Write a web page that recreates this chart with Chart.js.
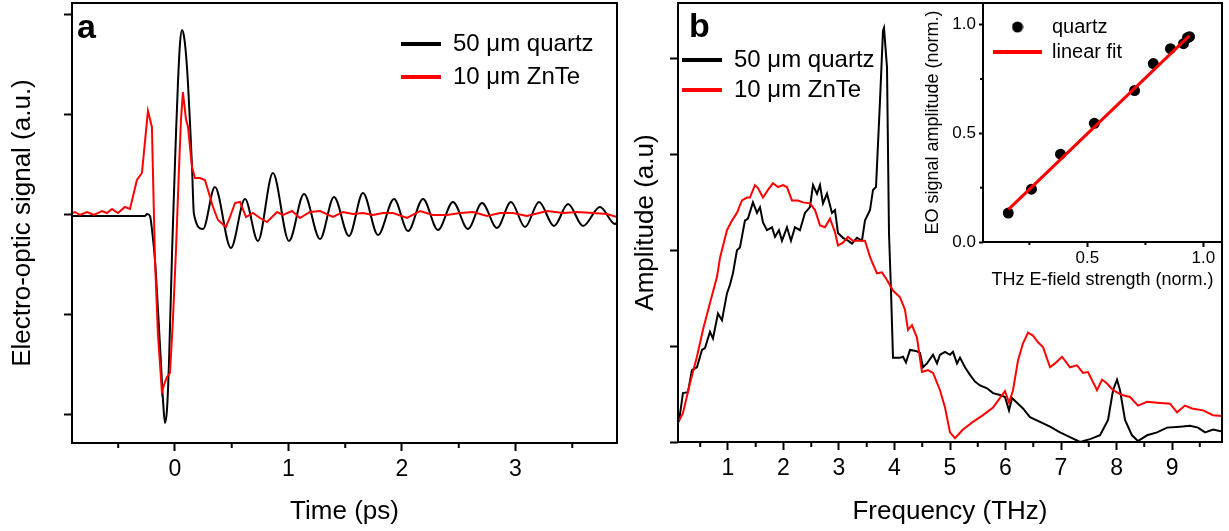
<!DOCTYPE html>
<html><head><meta charset="utf-8">
<script src="https://cdn.jsdelivr.net/npm/chart.js@4.4.1/dist/chart.umd.min.js"></script>
<style>
html,body{margin:0;padding:0;background:#fff;}
body{width:1229px;height:531px;position:relative;overflow:hidden;}
canvas{position:absolute;display:block;}
#cA{left:0;top:0;width:630px;height:531px;}
#cB{left:630px;top:0;width:599px;height:531px;}
#cI{left:900px;top:0;width:329px;height:300px;}
</style></head><body>
<canvas id="cA" width="630" height="531"></canvas>
<canvas id="cB" width="599" height="531"></canvas>
<canvas id="cI" width="329" height="300"></canvas>
<script>
// ---------------- data ----------------
const seriesNames = ['50 \u03bcm quartz', '10 \u03bcm ZnTe'];
const insetNames = ['quartz', 'linear fit'];

// panel a : time domain (ps, a.u.)
const timeQuartz = [-0.91, -0.66, -0.264, -0.247, -0.22, -0.203, -0.176, -0.15, -0.123, -0.106, -0.088, -0.07, -0.053, -0.026, -0.009, 0.009, 0.026, 0.044, 0.062, 0.079, 0.097, 0.115, 0.132, 0.15, 0.167, 0.247, 0.352, 0.493, 0.617, 0.731, 0.863, 1.004, 1.137, 1.278, 1.401, 1.533, 1.656, 1.789, 1.93, 2.053, 2.185, 2.317, 2.449, 2.581, 2.705, 2.837, 2.96, 3.084, 3.207, 3.339, 3.463, 3.595, 3.744, 3.877, 3.895];
const signalQuartz = [-0.02, -0.02, -0.02, 0.0, -0.02, -0.15, -0.46, -0.95, -1.5, -1.85, -2.09, -1.95, -1.5, -0.4, 0.2, 0.8, 1.3, 1.7, 1.84, 1.78, 1.6, 1.3, 0.92, 0.48, 0.0, -0.15, 0.27, -0.34, 0.15, -0.27, 0.41, -0.27, 0.2, -0.25, 0.17, -0.22, 0.21, -0.21, 0.15, -0.17, 0.15, -0.16, 0.12, -0.15, 0.11, -0.14, 0.12, -0.13, 0.12, -0.12, 0.1, -0.12, 0.07, -0.1, -0.08];
const timeZnTe = [-0.907, -0.881, -0.837, -0.775, -0.714, -0.643, -0.599, -0.555, -0.502, -0.441, -0.396, -0.335, -0.291, -0.238, -0.203, -0.176, -0.150, -0.115, -0.088, -0.070, -0.044, -0.018, 0.009, 0.035, 0.053, 0.070, 0.097, 0.115, 0.150, 0.176, 0.220, 0.264, 0.291, 0.335, 0.379, 0.449, 0.485, 0.529, 0.573, 0.626, 0.687, 0.749, 0.811, 0.899, 0.952, 1.031, 1.101, 1.189, 1.278, 1.392, 1.480, 1.568, 1.656, 1.744, 1.833, 1.921, 2.044, 2.159, 2.273, 2.396, 2.511, 2.626, 2.749, 2.863, 2.978, 3.101, 3.278, 3.419, 3.542, 3.683, 3.806, 3.894];
const signalZnTe = [0.01, 0.02, -0.01, 0.02, -0.01, 0.03, 0.01, 0.05, 0.01, 0.07, 0.05, 0.34, 0.41, 1.03, 0.87, -0.46, -1.2, -1.78, -1.68, -1.63, -1.59, -1.06, -0.36, 0.44, 0.94, 1.22, 0.95, 0.87, 0.47, 0.36, 0.36, 0.34, 0.24, 0.07, -0.06, -0.13, -0.03, 0.11, 0.12, -0.03, 0.01, -0.04, -0.08, 0.02, -0.01, 0.03, -0.04, 0.02, 0.03, -0.03, 0.02, 0.0, 0.01, -0.01, 0.01, 0.01, -0.04, 0.03, -0.01, -0.01, 0.01, 0.02, -0.02, 0.01, 0.01, -0.02, 0.03, 0.01, 0.02, 0.01, 0.0, -0.03];

// panel b : spectra (THz, a.u.)
const freqQuartz = [0.117, 0.189, 0.279, 0.351, 0.441, 0.532, 0.586, 0.676, 0.730, 0.820, 0.892, 0.982, 1.036, 1.090, 1.162, 1.216, 1.306, 1.360, 1.450, 1.523, 1.577, 1.631, 1.703, 1.793, 1.847, 1.919, 1.973, 2.063, 2.135, 2.207, 2.297, 2.387, 2.477, 2.532, 2.604, 2.658, 2.712, 2.784, 2.874, 2.928, 2.982, 3.072, 3.162, 3.234, 3.324, 3.414, 3.468, 3.559, 3.613, 3.667, 3.739, 3.793, 3.811, 3.865, 3.901, 3.937, 3.973, 4.099, 4.153, 4.207, 4.279, 4.387, 4.459, 4.514, 4.586, 4.694, 4.766, 4.820, 4.910, 5.000, 5.054, 5.126, 5.180, 5.270, 5.360, 5.450, 5.541, 5.667, 5.775, 5.901, 5.991, 6.063, 6.117, 6.207, 6.315, 6.441, 6.622, 6.802, 6.982, 7.162, 7.342, 7.523, 7.703, 7.847, 7.937, 8.009, 8.063, 8.153, 8.279, 8.387, 8.550, 8.730, 8.910, 9.144, 9.324, 9.468, 9.595, 9.739, 9.901];
const ampQuartz = [0.21, 0.51, 0.52, 0.75, 0.78, 0.96, 0.98, 1.15, 1.08, 1.34, 1.27, 1.55, 1.64, 1.76, 2.00, 2.03, 2.31, 2.33, 2.50, 2.39, 2.45, 2.29, 2.21, 2.24, 2.14, 2.21, 2.10, 2.24, 2.10, 2.24, 2.21, 2.39, 2.45, 2.68, 2.59, 2.68, 2.49, 2.59, 2.39, 2.42, 2.18, 2.13, 2.10, 2.07, 2.13, 2.10, 2.31, 2.42, 2.63, 2.66, 3.56, 4.29, 4.32, 3.91, 2.18, 1.58, 0.88, 0.88, 0.89, 0.83, 0.96, 0.95, 0.93, 0.78, 0.82, 0.91, 0.82, 0.91, 0.94, 0.91, 0.94, 0.82, 0.88, 0.78, 0.70, 0.63, 0.59, 0.56, 0.51, 0.49, 0.47, 0.33, 0.46, 0.41, 0.35, 0.26, 0.21, 0.16, 0.10, 0.05, 0.00, 0.03, 0.07, 0.23, 0.54, 0.65, 0.54, 0.23, 0.07, 0.01, 0.07, 0.10, 0.15, 0.16, 0.17, 0.15, 0.10, 0.13, 0.11];
const freqZnTe = [0.099, 0.189, 0.315, 0.441, 0.550, 0.676, 0.802, 0.856, 0.982, 1.072, 1.162, 1.252, 1.342, 1.396, 1.486, 1.541, 1.631, 1.721, 1.811, 1.901, 1.991, 2.063, 2.153, 2.261, 2.351, 2.477, 2.568, 2.658, 2.748, 2.838, 2.928, 2.982, 3.072, 3.162, 3.252, 3.378, 3.468, 3.559, 3.595, 3.685, 3.775, 3.865, 3.973, 4.099, 4.189, 4.243, 4.315, 4.405, 4.495, 4.604, 4.694, 4.820, 4.910, 5.000, 5.090, 5.234, 5.414, 5.595, 5.775, 5.901, 5.991, 6.063, 6.135, 6.225, 6.315, 6.405, 6.495, 6.586, 6.676, 6.802, 6.892, 7.018, 7.162, 7.288, 7.396, 7.486, 7.649, 7.739, 7.829, 7.937, 8.099, 8.243, 8.387, 8.550, 8.730, 8.964, 9.090, 9.234, 9.360, 9.559, 9.739, 9.901];
const ampZnTe = [0.20, 0.30, 0.61, 0.89, 1.17, 1.45, 1.72, 1.92, 2.21, 2.31, 2.39, 2.52, 2.55, 2.55, 2.68, 2.65, 2.55, 2.63, 2.70, 2.66, 2.68, 2.66, 2.52, 2.52, 2.50, 2.49, 2.42, 2.26, 2.24, 2.33, 2.19, 2.05, 2.08, 2.14, 2.10, 2.10, 2.10, 1.93, 1.88, 1.76, 1.77, 1.69, 1.58, 1.51, 1.38, 1.17, 1.22, 1.09, 0.73, 0.75, 0.72, 0.54, 0.36, 0.10, 0.04, 0.13, 0.21, 0.28, 0.36, 0.46, 0.53, 0.41, 0.54, 0.85, 1.03, 1.14, 1.11, 1.04, 0.99, 0.78, 0.82, 0.89, 0.78, 0.80, 0.72, 0.73, 0.54, 0.65, 0.61, 0.54, 0.49, 0.47, 0.38, 0.42, 0.41, 0.40, 0.31, 0.38, 0.35, 0.33, 0.28, 0.27];

// inset : EO amplitude vs field strength (norm.)
const fieldStrength = [0.159, 0.259, 0.384, 0.530, 0.703, 0.784, 0.858, 0.914, 0.931, 0.940];
const eoAmplitude = [0.133, 0.243, 0.404, 0.546, 0.697, 0.821, 0.890, 0.913, 0.940, 0.945];
const fitX = [0.16, 0.94];
const fitY = [0.15, 0.95];

// ticks
const timeTicks = [0, 1, 2, 3];
const timeTickLabels = ['0', '1', '2', '3'];
const timeMinorTicks = [-0.5, 0.5, 1.5, 2.5, 3.5];
const signalTicks = [-2, -1, 0, 1, 2];
const freqTicks = [1, 2, 3, 4, 5, 6, 7, 8, 9];
const freqTickLabels = ['1', '2', '3', '4', '5', '6', '7', '8', '9'];
const freqMinorTicks = [0.5, 1.5, 2.5, 3.5, 4.5, 5.5, 6.5, 7.5, 8.5, 9.5];
const ampTicks = [0, 1, 2, 3, 4];
const insetXTicks = [0.5, 1.0];
const insetXTickLabels = ['0.5', '1.0'];
const insetXMinorTicks = [0.25, 0.75];
const insetYTicks = [0, 0.5, 1.0];
const insetYTickLabels = ['0.0', '0.5', '1.0'];
const insetYMinorTicks = [0.25, 0.75];

// ---------------- helpers ----------------
const FONT = "'Liberation Sans', Arial, Helvetica, sans-serif";
Chart.defaults.font.family = FONT;
Chart.defaults.color = '#000';

const pts = (xs, ys) => xs.map((x, i) => ({x: x, y: ys[i]}));
const setTicks = vals => scale => { scale.ticks = vals.map(v => ({value: v})); };
const fixSize = size => scale => {
  if (scale.isHorizontal()) scale.height = size; else scale.width = size;
  scale.paddingTop = 0; scale.paddingBottom = 0; scale.paddingLeft = 0; scale.paddingRight = 0;
};
const gridOpts = len => ({display: true, drawOnChartArea: false, drawTicks: true, tickLength: len, tickColor: '#000', tickWidth: 2});

const framePlugin = {
  id: 'frame',
  afterDraw(chart, args, opts) {
    const ctx = chart.ctx, a = chart.chartArea;
    ctx.save(); ctx.strokeStyle = '#000'; ctx.lineWidth = opts.width || 2;
    ctx.strokeRect(a.left, a.top, a.right - a.left, a.bottom - a.top);
    ctx.restore();
  }
};
const minorPlugin = {
  id: 'minorTicks',
  afterDraw(chart, args, opts) {
    const ctx = chart.ctx, xs = chart.scales.x, ys = chart.scales.y;
    ctx.save(); ctx.strokeStyle = '#000'; ctx.lineWidth = opts.width || 2;
    (opts.x || []).forEach(v => { const p = xs.getPixelForValue(v); ctx.beginPath(); ctx.moveTo(p, xs.top); ctx.lineTo(p, xs.top + opts.length); ctx.stroke(); });
    (opts.y || []).forEach(v => { const p = ys.getPixelForValue(v); ctx.beginPath(); ctx.moveTo(ys.right, p); ctx.lineTo(ys.right - opts.length, p); ctx.stroke(); });
    ctx.restore();
  }
};
const letterPlugin = {
  id: 'panelLetter',
  afterDraw(chart, args, opts) {
    if (!opts.text) return;
    const ctx = chart.ctx;
    ctx.save(); ctx.font = 'bold ' + opts.size + 'px ' + FONT; ctx.fillStyle = '#000';
    ctx.textBaseline = 'alphabetic'; ctx.textAlign = 'left';
    ctx.fillText(opts.text, opts.x, opts.y);
    ctx.restore();
  }
};
const legendPosPlugin = {
  id: 'legendPos',
  afterLayout(chart, args, opts) {
    const lg = chart.legend; if (!lg) return;
    lg.left = opts.left; lg.top = opts.top; lg.width = 300; lg.height = 200;
    lg.right = opts.left + 300; lg.bottom = opts.top + 200;
  }
};
const lineLegend = w => chart => {
  const items = Chart.defaults.plugins.legend.labels.generateLabels(chart);
  items.forEach(it => {
    const ds = chart.data.datasets[it.datasetIndex];
    it.pointStyle = 'line'; it.lineWidth = w; it.strokeStyle = ds.borderColor; it.fillStyle = ds.borderColor;
  });
  return items;
};
const bySet = (a, b) => a.datasetIndex - b.datasetIndex;

// ---------------- panel a ----------------
new Chart(document.getElementById('cA'), {
  type: 'line',
  data: { datasets: [
    { label: seriesNames[0], data: pts(timeQuartz, signalQuartz), borderColor: '#000000', backgroundColor: '#000000', borderWidth: 2, pointRadius: 0, cubicInterpolationMode: 'monotone', order: 2 },
    { label: seriesNames[1], data: pts(timeZnTe, signalZnTe), borderColor: '#ff0000', backgroundColor: '#ff0000', borderWidth: 2, pointRadius: 0, tension: 0, order: 1 }
  ]},
  options: {
    responsive: false, animation: false, devicePixelRatio: 1, events: [],
    layout: { padding: {left: 0, right: 13, top: 3, bottom: 0}, autoPadding: false },
    scales: {
      x: { type: 'linear', position: 'bottom', min: -0.907, max: 3.894,
        afterBuildTicks: setTicks(timeTicks), afterFit: fixSize(88),
        grid: gridOpts(8), border: {display: false},
        ticks: { display: true, callback: (v, i) => timeTickLabels[i], font: {size: 23}, color: '#000', padding: 5, maxRotation: 0, autoSkip: false },
        title: { display: true, text: 'Time (ps)', font: {size: 26}, color: '#000', padding: {top: 0, bottom: 4} } },
      y: { type: 'linear', position: 'left', min: -2.29, max: 2.11,
        afterBuildTicks: setTicks(signalTicks), afterFit: fixSize(72),
        grid: gridOpts(8), border: {display: false},
        ticks: { display: false },
        title: { display: true, text: 'Electro-optic signal (a.u.)', font: {size: 26}, color: '#000', padding: {top: 7, bottom: 0} } }
    },
    plugins: {
      tooltip: {enabled: false},
      legend: { display: true, position: 'chartArea', align: 'start',
        labels: { usePointStyle: true, pointStyleWidth: 40, font: {size: 24}, color: '#000', padding: 9, sort: bySet, generateLabels: lineLegend(4) } },
      legendPos: {left: 392, top: 23},
      minorTicks: {x: timeMinorTicks, length: 5, width: 2},
      frame: {width: 2},
      panelLetter: {text: 'a', x: 77, y: 38, size: 34}
    }
  },
  plugins: [framePlugin, minorPlugin, letterPlugin, legendPosPlugin]
});

// ---------------- panel b ----------------
new Chart(document.getElementById('cB'), {
  type: 'line',
  data: { datasets: [
    { label: seriesNames[0], data: pts(freqQuartz, ampQuartz), borderColor: '#000000', backgroundColor: '#000000', borderWidth: 2, pointRadius: 0, tension: 0, order: 2 },
    { label: seriesNames[1], data: pts(freqZnTe, ampZnTe), borderColor: '#ff0000', backgroundColor: '#ff0000', borderWidth: 2, pointRadius: 0, tension: 0, order: 1 }
  ]},
  options: {
    responsive: false, animation: false, devicePixelRatio: 1, events: [],
    layout: { padding: {left: 0, right: 7, top: 3, bottom: 0}, autoPadding: false },
    scales: {
      x: { type: 'linear', position: 'bottom', min: 0.1, max: 9.9,
        afterBuildTicks: setTicks(freqTicks), afterFit: fixSize(89),
        grid: gridOpts(8), border: {display: false},
        ticks: { display: true, callback: (v, i) => freqTickLabels[i], font: {size: 23}, color: '#000', padding: 5, maxRotation: 0, autoSkip: false },
        title: { display: true, text: 'Frequency (THz)', font: {size: 26}, color: '#000', padding: {top: 0, bottom: 4} } },
      y: { type: 'linear', position: 'left', min: 0, max: 4.58,
        afterBuildTicks: setTicks(ampTicks), afterFit: fixSize(48),
        grid: gridOpts(8), border: {display: false},
        ticks: { display: false },
        title: { display: true, text: 'Amplitude (a.u)', font: {size: 26}, color: '#000', padding: {top: 0, bottom: 0} } }
    },
    plugins: {
      tooltip: {enabled: false},
      legend: { display: true, position: 'chartArea', align: 'start',
        labels: { usePointStyle: true, pointStyleWidth: 40, font: {size: 24}, color: '#000', padding: 6, sort: bySet, generateLabels: lineLegend(4) } },
      legendPos: {left: 46, top: 42},
      minorTicks: {x: freqMinorTicks, length: 5, width: 2},
      frame: {width: 2},
      panelLetter: {text: 'b', x: 59, y: 37, size: 34}
    }
  },
  plugins: [framePlugin, minorPlugin, letterPlugin, legendPosPlugin]
});

// ---------------- inset ----------------
const dot = document.createElement('canvas');
dot.width = 12; dot.height = 12;
(function(){ const c = dot.getContext('2d'); c.fillStyle = '#000'; c.beginPath(); c.arc(6, 6, 5.5, 0, Math.PI * 2); c.fill(); })();

new Chart(document.getElementById('cI'), {
  type: 'scatter',
  data: { datasets: [
    { label: insetNames[0], data: pts(fieldStrength, eoAmplitude), backgroundColor: '#000000', borderColor: '#000000', pointRadius: 5.5, pointBorderWidth: 0, showLine: false, order: 2 },
    { label: insetNames[1], data: pts(fitX, fitY), borderColor: '#ff0000', backgroundColor: '#ff0000', borderWidth: 3, pointRadius: 0, showLine: true, order: 1 }
  ]},
  options: {
    responsive: false, animation: false, devicePixelRatio: 1, events: [],
    layout: { padding: {left: 0, right: 7, top: 3, bottom: 0}, autoPadding: false },
    scales: {
      x: { type: 'linear', position: 'bottom', min: 0.05, max: 1.08,
        afterBuildTicks: setTicks(insetXTicks), afterFit: fixSize(58),
        grid: gridOpts(5), border: {display: false},
        ticks: { display: true, callback: (v, i) => insetXTickLabels[i], font: {size: 17}, color: '#000', padding: 1, maxRotation: 0, autoSkip: false },
        title: { display: true, text: 'THz E-field strength (norm.)', font: {size: 18}, color: '#000', padding: {top: 0, bottom: 9} } },
      y: { type: 'linear', position: 'left', min: 0, max: 1.1,
        afterBuildTicks: setTicks(insetYTicks), afterFit: fixSize(83),
        grid: gridOpts(4), border: {display: false},
        ticks: { display: true, callback: (v, i) => insetYTickLabels[i], font: {size: 17}, color: '#000', padding: 3, autoSkip: false },
        title: { display: true, text: 'EO signal amplitude (norm.)', font: {size: 18}, color: '#000', padding: {top: 22, bottom: 0} } }
    },
    plugins: {
      tooltip: {enabled: false},
      legend: { display: true, position: 'chartArea', align: 'start',
        labels: { usePointStyle: true, pointStyleWidth: 49, font: {size: 20}, color: '#000', padding: 5, sort: bySet,
          generateLabels: chart => {
            const items = Chart.defaults.plugins.legend.labels.generateLabels(chart);
            items.forEach(it => {
              if (it.datasetIndex === 0) { it.pointStyle = dot; it.lineWidth = 0; }
              else { it.pointStyle = 'line'; it.lineWidth = 4; it.strokeStyle = '#ff0000'; it.fillStyle = '#ff0000'; }
            });
            return items;
          } } },
      legendPos: {left: 88, top: 12},
      minorTicks: {x: insetXMinorTicks, y: insetYMinorTicks, length: 3, width: 2},
      frame: {width: 2},
      panelLetter: {text: ''}
    }
  },
  plugins: [framePlugin, minorPlugin, letterPlugin, legendPosPlugin]
});
</script>
</body></html>
